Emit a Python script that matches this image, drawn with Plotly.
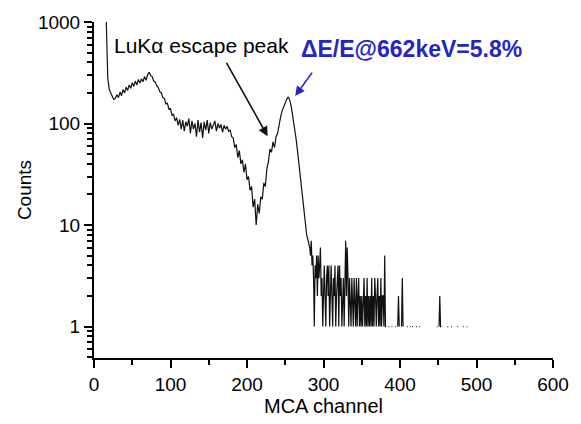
import plotly.graph_objects as go

# ---- data ----
ch_main = list(range(16, 282, 2))          # channels 16..280 (step 2)
counts_main = [
    1050, 280, 215, 195, 185, 172, 178, 192, 180, 204,
    188, 216, 200, 228, 212, 240, 222, 252, 232, 262,
    240, 272, 250, 276, 258, 290, 266, 300, 320, 298,
    290, 262, 256, 236, 226, 206, 200, 180, 176, 156,
    158, 138, 140, 120, 124, 106, 114, 96, 110, 88,
    108, 84, 104, 94, 112, 80, 106, 88, 100, 74,
    108, 82, 102, 72, 104, 86, 108, 80, 102, 88,
    96, 106, 84, 100, 90, 98, 82, 96, 88, 94,
    84, 86, 74, 72, 58, 62, 46, 54, 40, 44,
    33, 40, 28, 30, 22, 24, 15, 18, 10, 16,
    13, 19, 18, 26, 24, 36, 42, 56, 52, 66,
    58, 74, 80, 100, 117, 134, 148, 160, 174, 183,
    168, 145, 118, 92, 72, 54, 40, 30, 22, 15,
    11, 8, 7,
]

ch_tail = list(range(282, 492))            # channels 282..491 (step 1)
counts_tail = [
    6, 5, 7, 4, 5, 3, 1, 4, 3, 5,
    2, 5, 3, 4, 6, 2, 3, 1, 2, 4,
    2, 1, 3, 4, 2, 4, 1, 3, 4, 2,
    1, 3, 2, 4, 1, 2, 3, 4, 1, 4,
    2, 3, 1, 2, 3, 1, 4, 7, 2, 6,
    3, 1, 3, 2, 1, 3, 2, 1, 3, 2,
    1, 3, 1, 2, 3, 1, 2, 1, 2, 1,
    2, 3, 1, 2, 1, 3, 1, 2, 1, 2,
    1, 3, 1, 2, 1, 3, 2, 1, 2, 3,
    1, 2, 1, 3, 1, 2, 2, 1, 5, 1,
    1, 0, 0, 1, 1, 0, 0, 1, 1, 0,
    0, 0, 1, 1, 0, 1, 2, 1, 0, 0,
    1, 3, 1, 0, 0, 0, 0, 1, 1, 0,
    0, 1, 1, 0, 1, 1, 0, 0, 0, 1,
    1, 0, 0, 1, 1, 0, 0, 0, 0, 0,
    0, 0, 0, 0, 0, 0, 0, 0, 0, 0,
    0, 0, 0, 0, 0, 0, 1, 1, 0, 1,
    2, 1, 1, 0, 0, 0, 0, 0, 0, 0,
    1, 1, 0, 0, 0, 1, 1, 0, 0, 0,
    0, 0, 0, 1, 1, 0, 0, 0, 0, 0,
    1, 1, 0, 0, 0, 1, 1, 0, 0, 0,
]
assert len(ch_main) == len(counts_main)
assert len(ch_tail) == len(counts_tail)

# tick labels
y_major = [1, 10, 100, 1000]
y_ticktext = ["1", "10", "100", "1000"]

X_RANGE = [0, 600]
Y_RANGE = [-0.31, 3.0]   # log10 units

channels = ch_main + ch_tail
counts = [c if c > 0 else None for c in counts_main + counts_tail]

FONT = "Liberation Sans, Arial, sans-serif"

fig = go.Figure()
fig.add_trace(go.Scatter(
    x=channels, y=counts, mode="lines",
    line=dict(color="#111111", width=1.2),
    connectgaps=False, showlegend=False, hoverinfo="skip",
))

fig.update_layout(
    template="simple_white",
    width=581, height=424,
    margin=dict(l=94, r=17, t=16, b=65),
    paper_bgcolor="white", plot_bgcolor="white",
    showlegend=False,
    font=dict(family=FONT, color="black", size=19),
    xaxis=dict(
        range=X_RANGE, tick0=0, dtick=100, ticks="outside", ticklen=8,
        tickwidth=2, tickcolor="black", showline=True, linewidth=2,
        linecolor="black",
        tickfont=dict(size=19, color="black"),
        minor=dict(tick0=0, dtick=50, ticks="outside", ticklen=5,
                   tickwidth=2, tickcolor="black"),
        title=dict(text="MCA channel", font=dict(size=20), standoff=3),
    ),
    yaxis=dict(
        type="log", range=Y_RANGE, tickvals=y_major, ticktext=y_ticktext,
        ticks="outside", ticklen=8, tickwidth=2, tickcolor="black",
        showline=True, linewidth=2, linecolor="black",
        tickfont=dict(size=19, color="black"),
        minor=dict(dtick="D1", ticks="outside", ticklen=5,
                   tickwidth=1.5, tickcolor="black"),
        title=dict(text="Counts", font=dict(size=19), standoff=1),
    ),
    annotations=[
        dict(x=141, y=2.77, xref="x", yref="y", text="LuKα escape peak",
             showarrow=False, font=dict(size=21, color="black", family=FONT)),
        dict(x=227, y=1.874, xref="x", yref="y", text="",
             showarrow=True, ax=-42, ay=-75, arrowhead=2, arrowsize=1.2,
             arrowwidth=1.6, arrowcolor="#111111"),
        dict(x=415, y=2.73, xref="x", yref="y",
             text="<b>ΔE/E@662keV=5.8%</b>", showarrow=False,
             font=dict(size=23, color="#2424c8", family=FONT)),
        dict(x=263, y=2.27, xref="x", yref="y", text="",
             showarrow=True, ax=18, ay=-25, arrowhead=2, arrowsize=1.2,
             arrowwidth=1.6, arrowcolor="#2424c8"),
    ],
)

fig.write_html("out.html")
